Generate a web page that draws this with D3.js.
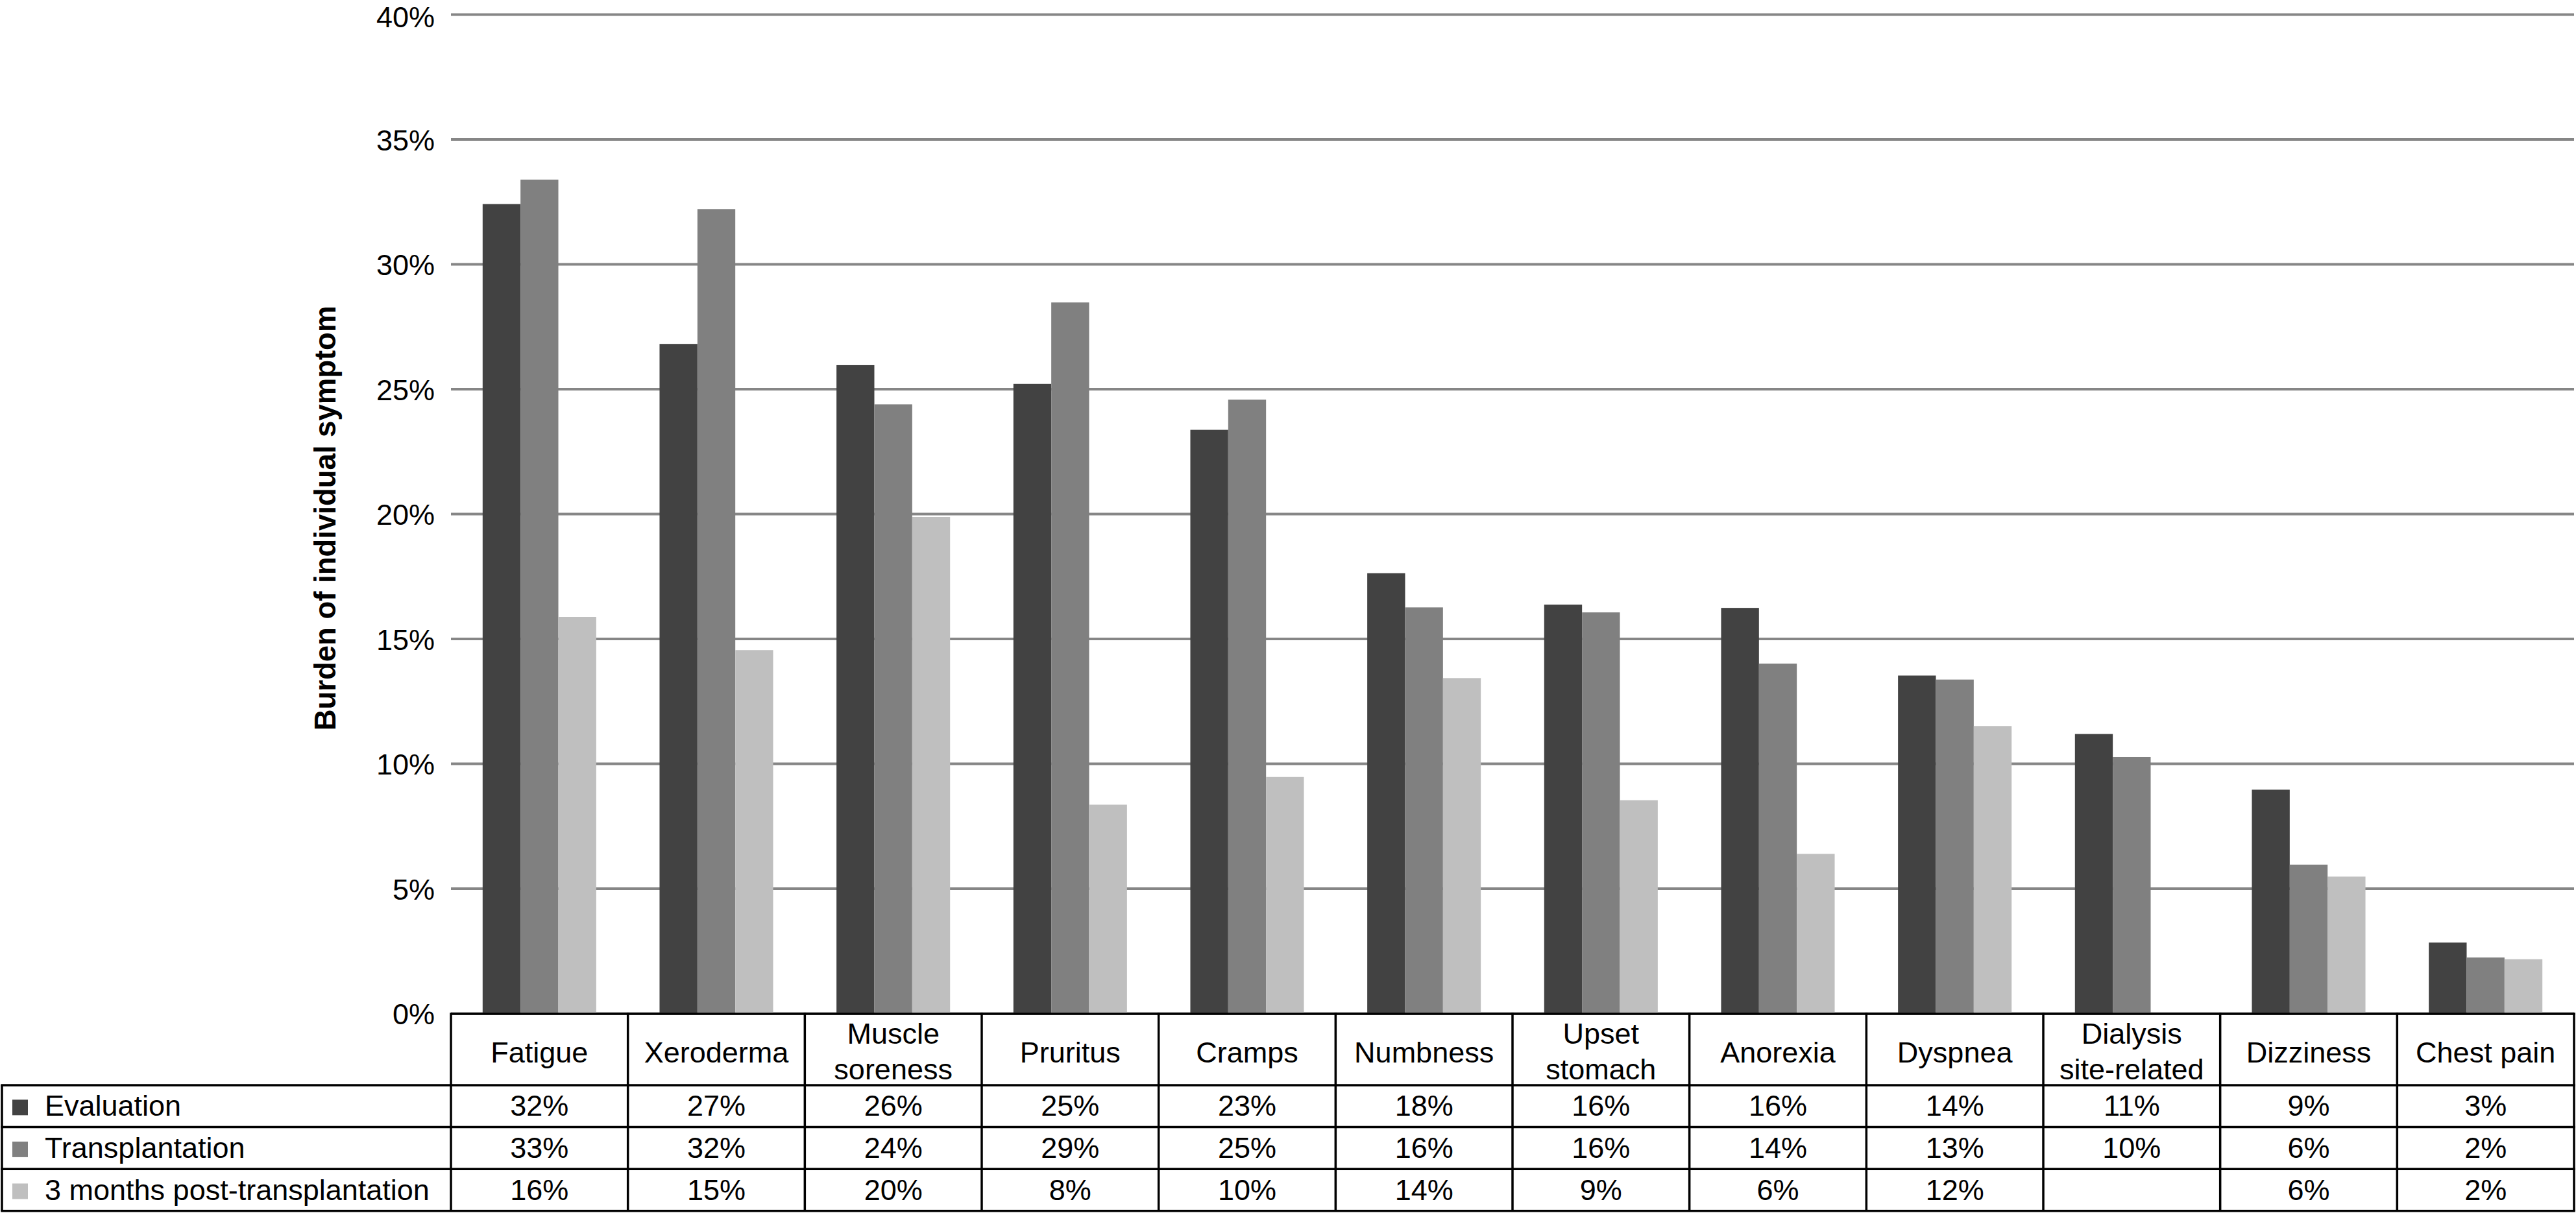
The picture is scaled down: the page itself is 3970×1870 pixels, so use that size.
<!DOCTYPE html>
<html>
<head>
<meta charset="utf-8">
<script src="https://cdn.jsdelivr.net/npm/d3@7"></script>
<style>
  html, body { margin: 0; padding: 0; background: #ffffff; }
  svg { display: block; }
  text { font-family: "Liberation Sans", Arial, Helvetica, sans-serif; fill: #000; }
</style>
</head>
<body>
<svg id="chart" width="3970" height="1870"></svg>
<script>
// ---------- DATA ----------
const categories = ["Fatigue", "Xeroderma", "Muscle soreness", "Pruritus", "Cramps", "Numbness",
  "Upset stomach", "Anorexia", "Dyspnea", "Dialysis site-related", "Dizziness", "Chest pain"];
const headerLines = [["Fatigue"], ["Xeroderma"], ["Muscle", "soreness"], ["Pruritus"], ["Cramps"], ["Numbness"],
  ["Upset", "stomach"], ["Anorexia"], ["Dyspnea"], ["Dialysis", "site-related"], ["Dizziness"], ["Chest pain"]];
const seriesNames = ["Evaluation", "Transplantation", "3 months post-transplantation"];
const evaluation      = [32.4, 26.8, 25.95, 25.2, 23.36, 17.62, 16.36, 16.23, 13.52, 11.18, 8.95, 2.83];
const transplantation = [33.38, 32.2, 24.38, 28.46, 24.57, 16.25, 16.05, 14.0, 13.36, 10.26, 5.95, 2.23];
const postTransplant  = [15.87, 14.54, 19.87, 8.35, 9.46, 13.42, 8.53, 6.38, 11.5, null, 5.47, 2.16];
const evaluationLabels      = ["32%", "27%", "26%", "25%", "23%", "18%", "16%", "16%", "14%", "11%", "9%", "3%"];
const transplantationLabels = ["33%", "32%", "24%", "29%", "25%", "16%", "16%", "14%", "13%", "10%", "6%", "2%"];
const postTransplantLabels  = ["16%", "15%", "20%", "8%", "10%", "14%", "9%", "6%", "12%", "", "6%", "2%"];
const tickValues = [0, 5, 10, 15, 20, 25, 30, 35, 40];
const tickLabels = ["0%", "5%", "10%", "15%", "20%", "25%", "30%", "35%", "40%"];
const yTitle = "Burden of individual symptom";
const colors = ["#424242", "#808080", "#bfbfbf"];

// ---------- LAYOUT ----------
const plotLeft = 695, plotRight = 3967, plotTop = 22, plotBottom = 1562;
const tableLeft = 3;
const headerBottom = 1673;
const rowH = 64.6;
const fontSize = 45;

const svg = d3.select("#chart");

const x = d3.scaleBand().domain(categories).range([plotLeft, plotRight]).paddingInner(0).paddingOuter(0);
const bw = x.bandwidth();
const groupPad = bw * 0.179;
const xs = d3.scaleBand().domain(d3.range(3)).range([groupPad, bw - groupPad]).padding(0);
const y = d3.scaleLinear().domain([0, 40]).range([plotBottom, plotTop]);

// gridlines + tick labels via axis
const yAxis = d3.axisLeft(y)
  .tickValues(tickValues)
  .tickFormat((d, i) => tickLabels[i])
  .tickSize(-(plotRight - plotLeft))
  .tickPadding(25);

const gAxis = svg.append("g")
  .attr("transform", `translate(${plotLeft},0)`)
  .call(yAxis);
gAxis.select(".domain").remove();
gAxis.selectAll(".tick line").attr("stroke", "#868686").attr("stroke-width", 4);
gAxis.selectAll(".tick text")
  .attr("font-size", fontSize)
  .attr("dy", d => d === 40 ? "0.43em" : "0.37em")
  .style("font-family", '"Liberation Sans", Arial, Helvetica, sans-serif')
  .attr("fill", "#000");

// y title
svg.append("text")
  .attr("transform", `translate(517,799) rotate(-90)`)
  .attr("text-anchor", "middle")
  .attr("font-size", 45.5)
  .attr("font-weight", "bold")
  .text(yTitle);

// bars
const seriesData = [evaluation, transplantation, postTransplant];
seriesData.forEach((vals, s) => {
  svg.append("g").selectAll("rect")
    .data(categories.map((c, i) => ({ c, v: vals[i] })).filter(d => d.v != null))
    .join("rect")
    .attr("x", d => x(d.c) + xs(s))
    .attr("width", xs.bandwidth())
    .attr("y", d => y(d.v))
    .attr("height", d => y(0) - y(d.v))
    .attr("fill", colors[s]);
});

// ---------- TABLE ----------
const tbl = svg.append("g");
const lineW = 3.5;
const rowTops = [headerBottom, headerBottom + rowH, headerBottom + 2 * rowH];
const tableBottom = headerBottom + 3 * rowH;

// horizontal lines
tbl.append("line").attr("x1", plotLeft).attr("x2", plotRight + lineW / 2)
  .attr("y1", plotBottom + 1).attr("y2", plotBottom + 1);
[headerBottom, headerBottom + rowH, headerBottom + 2 * rowH, tableBottom].forEach(yy => {
  tbl.append("line").attr("x1", tableLeft - lineW / 2).attr("x2", plotRight + lineW / 2)
    .attr("y1", yy).attr("y2", yy);
});
// vertical lines
tbl.append("line").attr("x1", tableLeft).attr("x2", tableLeft)
  .attr("y1", headerBottom).attr("y2", tableBottom);
d3.range(categories.length + 1).forEach(i => {
  const xx = plotLeft + i * bw;
  tbl.append("line").attr("x1", xx).attr("x2", xx)
    .attr("y1", plotBottom + 1 - lineW / 2).attr("y2", tableBottom);
});
tbl.selectAll("line").attr("stroke", "#000").attr("stroke-width", lineW);

// header labels
const hdr = svg.append("g");
categories.forEach((c, i) => {
  const lines = headerLines[i];
  const t = hdr.append("text")
    .attr("text-anchor", "middle")
    .attr("font-size", fontSize);
  const cx = x(c) + bw / 2;
  if (lines.length === 1) {
    t.append("tspan").attr("x", cx).attr("y", 1638).text(lines[0]);
  } else {
    t.append("tspan").attr("x", cx).attr("y", 1609).text(lines[0]);
    t.append("tspan").attr("x", cx).attr("y", 1664).text(lines[1]);
  }
});

// data rows
const rowLabels = [evaluationLabels, transplantationLabels, postTransplantLabels];
rowLabels.forEach((labs, r) => {
  const cy = rowTops[r] + rowH / 2;
  // legend swatch & name
  svg.append("rect")
    .attr("x", 19).attr("y", cy - 10).attr("width", 24).attr("height", 24)
    .attr("fill", colors[r]);
  svg.append("text")
    .attr("x", 69).attr("y", cy + 15)
    .attr("font-size", fontSize)
    .text(seriesNames[r]);
  svg.append("g").selectAll("text")
    .data(categories.map((c, i) => ({ c, l: labs[i] })))
    .join("text")
    .attr("x", d => x(d.c) + bw / 2)
    .attr("y", cy + 15)
    .attr("text-anchor", "middle")
    .attr("font-size", fontSize)
    .text(d => d.l);
});
</script>
</body>
</html>
